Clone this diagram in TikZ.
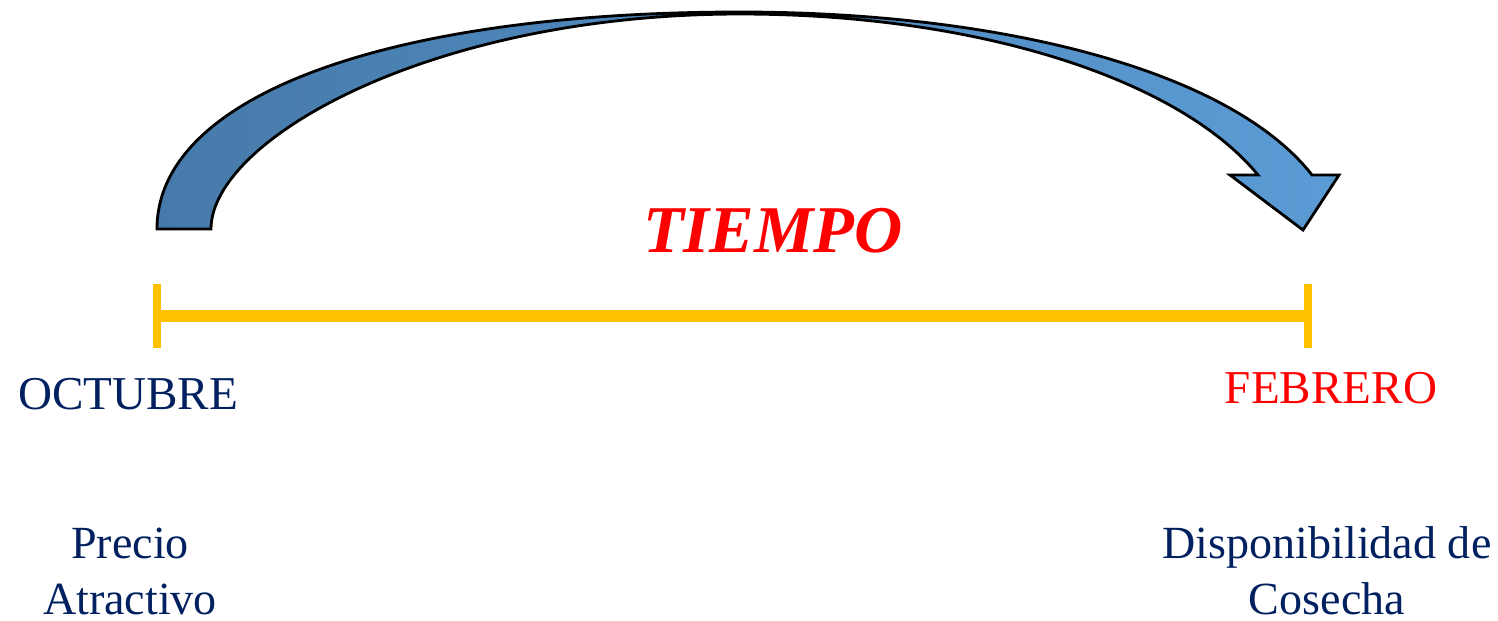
\documentclass[tikz,border=0pt]{standalone}
\usepackage{fontspec}
\setmainfont{Liberation Serif}
\usetikzlibrary{positioning}
\definecolor{navytext}{RGB}{0,32,96}
\definecolor{timered}{RGB}{255,0,0}
\definecolor{lineorange}{RGB}{255,192,0}
\definecolor{arrowdark}{RGB}{70,122,170}
\definecolor{arrowlight}{RGB}{91,155,213}
\tikzset{
  month/.style    = {font=\fontsize{13.4}{16}\selectfont, inner sep=0pt, anchor=base},
  note/.style     = {font=\fontsize{13.1}{15.9}\selectfont, text=navytext, align=center,
                     inner sep=0pt, anchor=north},
  title/.style    = {font=\fontsize{19}{22}\selectfont\bfseries\itshape, text=timered,
                     inner sep=0pt, anchor=base},
  timeline/.style = {draw=lineorange, line width=3.4pt},
  tickmark/.style = {draw=lineorange, line width=2.3pt},
  bigarrow/.style = {draw=black, line width=0.8pt, line join=miter,
                     left color=arrowdark, right color=arrowlight},
}

\begin{document}
\begin{tikzpicture}[x=0.01cm, y=-0.01cm]
  \useasboundingbox (0,0) rectangle (1498,620);

  % curved arrow
  \path[bigarrow] (157,229) .. controls (157,95) and (390,12) .. (740,12)
        .. controls (1000,12) and (1230,70) .. (1312,175)
        -- (1339,175) -- (1303,230) -- (1230,175) -- (1258,175)
        .. controls (1180,80) and (980,14) .. (740,14)
        .. controls (430,14) and (211,140) .. (211,229) -- cycle;

  \node[title] (tiempo) at (773,252) {TIEMPO};

  % time line
  \coordinate (start) at (157,316);
  \coordinate (end)   at (1308,316);
  \draw[timeline] (start) -- (end);
  \draw[tickmark] (start) ++(0,-32) -- ++(0,64);
  \draw[tickmark] (end) ++(0,-32) -- ++(0,64);

  \node[month, text=navytext] (oct) at (128,409) {OCTUBRE};
  \node[month, text=timered]  (feb) at (1331,403) {FEBRERO};

  \node[note] (precio)  at (130,527)  {Precio\\Atractivo};
  \node[note] (cosecha) at (1327,526) {Disponibilidad de\\Cosecha};
\end{tikzpicture}
\end{document}
